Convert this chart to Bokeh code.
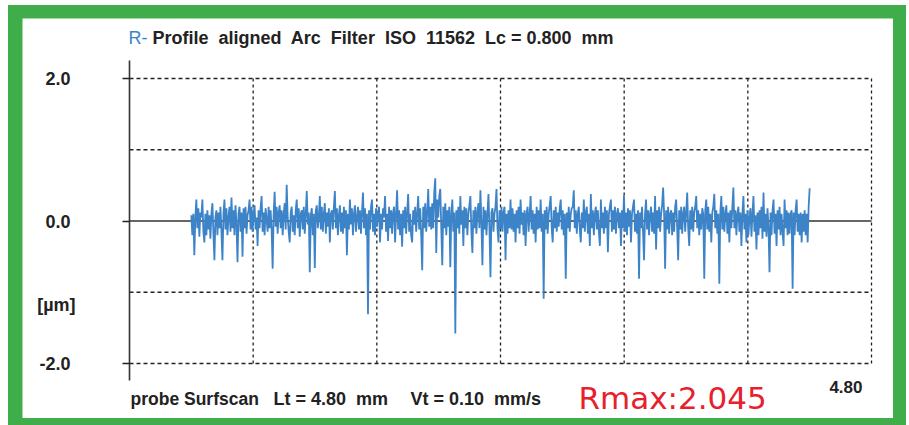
import numpy as np
from bokeh.plotting import figure
from bokeh.models import Range1d, FixedTicker, Label, ColumnDataSource
from bokeh.layouts import column
from bokeh.embed import file_html
from bokeh.resources import INLINE

# ---------------- data ----------------
title_prefix = "R-"
title_text = "Profile\u00a0 aligned\u00a0 Arc\u00a0 Filter\u00a0 ISO\u00a0 11562\u00a0 Lc = 0.800\u00a0 mm"
footer_probe = "probe Surfscan"
footer_lt = "Lt = 4.80\u00a0 mm"
footer_vt = "Vt = 0.10\u00a0 mm/s"
rmax_text = "Rmax:2.045"
y_ticks = [2.0, 0.0, -2.0]
y_tick_labels = ["2.0", "0.0", "-2.0"]
y_unit_label = "[µm]"
x_end_label = "4.80"
x_start_mm = 0.0
x_grid_ticks = [0.8, 1.6, 2.4, 3.2, 4.0, 4.8]
y_grid_ticks = [-2.0, -1.0, 1.0, 2.0]
zero_level = 0.0
eval_start_mm = 0.4
eval_end_mm = 4.4

# roughness profile heights [µm], read left to right
profile_um = [
    0.08, -0.2, 0.1, -0.48, 0.05, 0.3, -0.1, 0.18, -0.22, 0.12,
    0.05, 0.3, -0.15, -0.3, 0.1, -0.2, 0.15, -0.12, 0.08, -0.25,
    0.1, 0.25, -0.18, -0.55, 0.05, 0.15, -0.2, 0.12, -0.1, 0.2,
    -0.15, -0.55, 0.1, 0.3, -0.12, 0.18, -0.2, 0.05, 0.2, -0.15,
    0.33, -0.1, 0.15, -0.2, 0.22, -0.05, -0.58, 0.1, 0.2, -0.15,
    0.12, -0.5, 0.18, -0.1, 0.2, -0.18, 0.08, 0.15, 0.3, -0.12,
    0.2, -0.15, 0.1, 0.22, -0.12, 0.05, -0.35, 0.15, -0.1, 0.18,
    0.35, -0.15, 0.12, -0.2, 0.18, 0.02, -0.15, 0.2, -0.1, 0.15,
    -0.12, -0.67, 0.1, 0.41, -0.08, 0.2, -0.18, 0.12, 0.22, -0.1,
    0.15, -0.2, 0.1, 0.25, -0.12, 0.51, 0.05, -0.15, -0.3, 0.12,
    0.2, -0.15, 0.08, -0.2, 0.15, 0.3, -0.1, 0.18, -0.22, 0.1,
    0.15, -0.12, 0.2, -0.18, 0.1, 0.42, -0.05, 0.12, -0.72, 0.08,
    0.18, -0.2, 0.1, -0.66, 0.15, 0.22, -0.1, 0.05, 0.35, -0.12,
    0.2, -0.15, 0.1, 0.25, -0.18, 0.12, -0.08, 0.18, -0.3, 0.1,
    0.15, -0.12, 0.2, 0.42, -0.1, 0.18, -0.2, 0.08, 0.22, -0.15,
    0.12, -0.18, 0.2, -0.1, 0.15, -0.48, 0.1, -0.12, 0.3, -0.05,
    0.18, -0.2, 0.1, 0.22, -0.15, 0.05, 0.2, -0.12, 0.15, -0.18,
    0.12, 0.4, -0.1, 0.18, -0.2, 0.1, -1.31, 0.15, -0.12, 0.2,
    0.3, -0.15, 0.1, -0.2, 0.18, -0.08, 0.12, 0.2, -0.3, 0.1,
    -0.12, 0.18, 0.05, 0.35, -0.15, 0.1, -0.28, 0.2, -0.1, 0.15,
    -0.18, 0.12, 0.2, -0.3, 0.1, 0.43, -0.12, 0.15, -0.2, 0.1,
    -0.36, 0.15, -0.1, 0.2, -0.18, 0.12, 0.38, -0.15, 0.1, -0.2,
    -0.3, 0.15, -0.05, 0.2, -0.15, 0.1, 0.35, -0.12, 0.18, -0.2,
    -0.69, 0.2, -0.1, 0.25, -0.15, 0.12, 0.45, -0.08, 0.2, -0.12,
    0.25, -0.1, 0.4, 0.6, -0.45, 0.3, 0.05, 0.35, 0.45, -0.1,
    -0.62, 0.2, -0.1, 0.25, -0.2, 0.15, -0.08, 0.2, -0.65, 0.1,
    0.3, -0.15, 0.12, -1.58, 0.15, -0.1, 0.2, -0.18, 0.35, -0.05,
    0.15, -0.35, 0.2, -0.1, 0.18, -0.2, 0.1, 0.22, 0.35, -0.15,
    -0.45, 0.15, -0.1, 0.2, -0.18, 0.12, 0.25, -0.1, 0.43, -0.05,
    -0.62, 0.2, -0.12, 0.15, -0.2, 0.1, 0.38, -0.1, -0.79, 0.12,
    0.18, -0.15, 0.1, 0.2, 0.45, -0.1, -0.3, 0.15, -0.12, 0.2,
    -0.15, 0.12, 0.2, -0.55, 0.1, -0.18, 0.15, -0.1, 0.3, -0.12,
    0.18, -0.15, 0.1, -0.3, 0.15, -0.1, 0.2, -0.18, 0.3, -0.05,
    0.12, -0.2, 0.15, -0.35, 0.1, 0.2, -0.15, 0.08, 0.35, -0.12,
    0.15, -0.18, 0.1, -0.3, 0.2, -0.12, 0.15, -0.1, 0.3, -0.15,
    0.1, -1.09, 0.15, -0.12, 0.2, -0.18, 0.1, 0.22, 0.35, -0.1,
    -0.3, 0.15, -0.1, 0.2, -0.15, 0.12, -0.08, 0.18, 0.3, -0.12,
    0.15, -0.2, 0.1, -0.81, 0.12, -0.1, 0.2, -0.15, 0.1, 0.18,
    0.2, 0.43, -0.1, 0.15, -0.18, 0.1, 0.2, -0.12, -0.3, 0.12,
    -0.1, 0.3, -0.15, 0.12, 0.2, -0.18, 0.1, -0.35, 0.38, -0.1,
    0.15, -0.2, 0.1, 0.2, -0.12, 0.15, -0.15, -0.35, 0.3, -0.1,
    0.12, -0.18, 0.2, -0.1, 0.15, -0.44, 0.1, 0.2, 0.3, -0.15,
    0.15, -0.12, 0.2, -0.18, 0.1, 0.18, -0.1, 0.12, -0.35, 0.15,
    -0.1, 0.36, -0.15, 0.12, -0.2, 0.18, -0.08, 0.15, -0.3, 0.1,
    0.2, 0.3, -0.15, 0.1, -0.18, 0.15, -0.81, 0.12, -0.1, 0.2,
    -0.15, -0.55, 0.1, 0.3, -0.12, 0.15, -0.2, 0.1, 0.2, -0.15,
    0.12, -0.18, 0.35, -0.4, 0.15, -0.1, 0.2, -0.15, 0.1, 0.22,
    0.47, 0.1, -0.67, 0.15, -0.12, 0.2, -0.18, 0.1, 0.15, -0.2,
    0.12, -0.15, 0.2, 0.3, -0.1, -0.55, 0.15, -0.12, 0.2, -0.18,
    0.1, 0.2, -0.15, 0.12, 0.4, -0.1, -0.35, 0.15, -0.12, 0.2,
    -0.15, 0.12, 0.2, 0.35, -0.1, 0.15, -0.2, 0.1, -0.12, 0.18,
    0.1, -0.81, 0.15, 0.3, -0.12, 0.2, -0.15, 0.1, -0.3, 0.12,
    0.2, 0.38, -0.1, 0.15, -0.18, 0.1, -0.88, 0.12, 0.35, -0.12,
    0.2, -0.15, 0.1, 0.22, -0.18, 0.12, -0.3, 0.15, -0.1, 0.2,
    0.47, -0.1, 0.15, -0.2, 0.1, 0.2, -0.15, 0.12, -0.35, 0.1,
    0.35, -0.12, 0.1, -0.3, 0.15, -0.2, 0.05, 0.18, -0.22, 0.1,
    0.35, -0.15, 0.08, -0.4, 0.12, -0.2, 0.15, -0.1, 0.2, -0.25,
    0.4, -0.15, 0.1, -0.22, 0.18, -0.1, -0.72, 0.12, -0.2, 0.15,
    0.3, -0.18, 0.1, -0.35, 0.15, -0.12, 0.2, -0.2, 0.1, -0.15,
    -0.35, 0.3, -0.1, 0.15, -0.2, 0.12, -0.18, 0.1, 0.15, -0.95,
    0.12, -0.2, 0.15, 0.3, -0.15, 0.1, -0.2, 0.12, -0.3, 0.1,
    -0.15, 0.15, -0.2, 0.1, -0.3, 0.2, 0.46,
]

# sampling positions along the evaluation length [mm]
x_mm = np.linspace(eval_start_mm, eval_end_mm, len(profile_um))
src = ColumnDataSource(dict(x=x_mm, y=profile_um))

# ---------------- styles ----------------
GREEN = "#3fae4a"
BLUE = "#3c83c8"
INK = "#222222"
RED = "#e8202b"
FONT = "Liberation Sans"

# page-pixel -> data helpers (axis origin at page x=129, 0 µm at page y=220.5)
PX_PER_MM = 742 / 4.8
PX_PER_UM = 71.25

def px_x(px):
    return (px - 129) / PX_PER_MM

def px_y(py):
    return (220.5 - py) / PX_PER_UM

FIG_L, FIG_T, FIG_W, FIG_H = 22, 18, 871, 400

p = figure(
    width=FIG_W, height=FIG_H,
    x_range=Range1d(px_x(FIG_L), px_x(FIG_L + FIG_W)),
    y_range=Range1d(px_y(FIG_T + FIG_H), px_y(FIG_T)),
    output_backend="svg", toolbar_location=None,
    min_border=0, min_border_left=0, min_border_right=0,
    min_border_top=0, min_border_bottom=0,
    background_fill_color="white", border_fill_color="white",
    outline_line_color=None,
    margin=(13, 13, 7, 14),
)
p.xaxis.visible = False
p.xgrid.visible = False
p.ygrid.visible = False

yax = p.yaxis[0]
yax.fixed_location = x_start_mm
yax.bounds = (px_y(380), px_y(60))
yax.ticker = FixedTicker(ticks=y_ticks)
yax.major_label_overrides = {t: l for t, l in zip(y_ticks, y_tick_labels)}
yax.minor_tick_line_color = None
yax.major_tick_out = 7
yax.major_tick_in = 0
yax.major_tick_line_width = 1.5
yax.major_tick_line_color = INK
yax.axis_line_color = "#333333"
yax.axis_line_width = 1.6
yax.major_label_standoff = 52
yax.major_label_text_font = FONT
yax.major_label_text_font_style = "bold"
yax.major_label_text_font_size = "18px"
yax.major_label_text_color = INK

# dotted grid lines confined to the 0..4.8 mm x -2..2 µm box
y_lo, y_hi = min(y_grid_ticks), max(y_grid_ticks)
x_hi = max(x_grid_ticks)
p.segment(x0=x_grid_ticks, x1=x_grid_ticks,
          y0=[y_lo] * len(x_grid_ticks), y1=[y_hi] * len(x_grid_ticks),
          line_color=INK, line_dash="3 3", line_width=1.3)
p.segment(x0=[x_start_mm] * len(y_grid_ticks), x1=[x_hi] * len(y_grid_ticks),
          y0=y_grid_ticks, y1=y_grid_ticks,
          line_color=INK, line_dash="4 3", line_width=1.3)
p.segment(x0=[x_start_mm], x1=[x_hi], y0=[zero_level], y1=[zero_level],
          line_color="#333333", line_width=1.5)

p.line("x", "y", source=src, line_color=BLUE, line_width=1.8)

def add_text(txt, px, py, size, color=INK, font=FONT, style="bold", align="left", baseline="alphabetic"):
    p.add_layout(Label(x=px_x(px), y=px_y(py), text=txt, text_font=font,
                       text_font_style=style, text_font_size=size, text_color=color,
                       text_align=align, text_baseline=baseline))

add_text(title_prefix, 128, 37, "18px", color=BLUE, style="normal")
add_text(title_text, 152, 37, "18px")
add_text(y_unit_label, 75, 304, "18px", align="right", baseline="middle")
add_text(footer_probe, 130, 398, "17.5px")
add_text(footer_lt, 273, 398, "18px")
add_text(footer_vt, 410, 398, "18px")
add_text(x_end_label, 862, 386, "17px", align="right")
add_text(rmax_text, 578, 397, "31px", color=RED, font="DejaVu Sans", style="normal")

layout = column(p, styles={"background-color": GREEN}, margin=(5, 0, 0, 8))

open("out.html", "w").write(file_html(layout, INLINE))
